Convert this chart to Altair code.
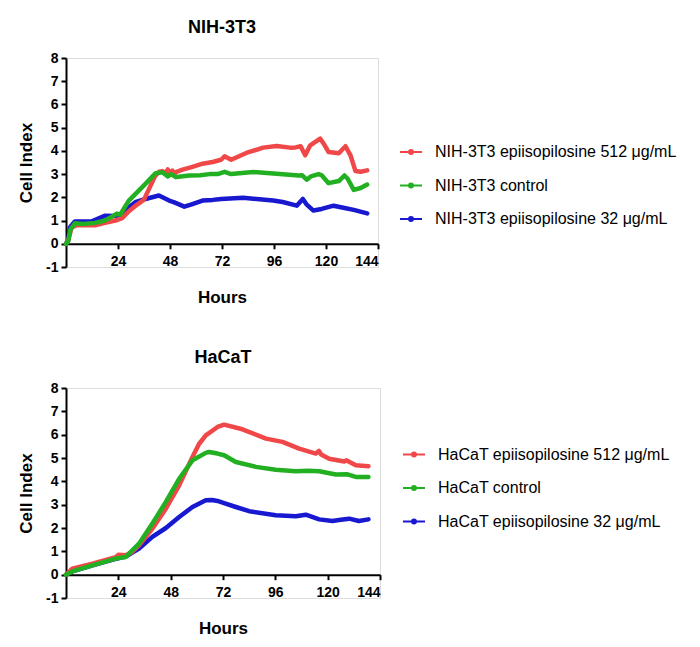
import altair as alt
import pandas as pd

# ---------------- data ----------------
NIH_SERIES = ["NIH-3T3 epiisopilosine 512 μg/mL", "NIH-3T3 control", "NIH-3T3 epiisopilosine 32 μg/mL"]
HACAT_SERIES = ["HaCaT epiisopilosine 512 μg/mL", "HaCaT control", "HaCaT epiisopilosine 32 μg/mL"]
COLORS = ["#F04848", "#22B022", "#1818D0"]

NIH_512_T = [0, 1, 2.6, 4.9, 8, 13.4, 18, 22.8, 25.9, 29, 31, 33, 36, 38, 41, 43, 44.5, 46, 47, 48, 49.1, 50, 51, 53.8, 58, 63, 67.7, 71.6, 73.2, 76.2, 83.2, 91, 97.2, 103.4, 106, 108.3, 110.4, 112.7, 117.3, 119, 121.2, 125.9, 129, 131.3, 133.6, 136, 139]
NIH_512_V = [0, 0.15, 0.7, 0.8, 0.8, 0.8, 0.9, 1.0, 1.1, 1.4, 1.55, 1.7, 1.9, 2.3, 2.9, 3.1, 3.13, 3.05, 3.2, 3.0, 3.15, 3.0, 3.1, 3.19, 3.3, 3.45, 3.52, 3.62, 3.77, 3.62, 3.91, 4.14, 4.21, 4.14, 4.15, 4.2, 3.81, 4.24, 4.53, 4.3, 3.95, 3.9, 4.2, 3.81, 3.13, 3.1, 3.16]

NIH_CTRL_T = [0, 1, 2, 4.1, 8, 13.4, 18, 21.2, 23.5, 25, 29, 35.2, 41.4, 44.5, 47, 48.5, 50.7, 53, 56.9, 62, 66.2, 70, 73.2, 76.2, 86.3, 98.7, 107.3, 109, 111.1, 113, 116.6, 118, 121.2, 125.9, 128.5, 130, 132.8, 136, 139]
NIH_CTRL_V = [0, 0.1, 0.6, 0.88, 0.85, 0.9, 1.0, 1.17, 1.3, 1.25, 1.86, 2.44, 3.04, 3.08, 2.9, 3.0, 2.87, 2.9, 2.94, 2.95, 3.0, 3.0, 3.1, 3.0, 3.09, 3.0, 2.94, 2.95, 2.76, 2.9, 3.0, 2.95, 2.61, 2.7, 2.94, 2.8, 2.32, 2.4, 2.55]

NIH_32_T = [0, 1, 1.8, 4.1, 8.8, 11.9, 18.1, 22.8, 25, 28, 32, 36.7, 42.9, 47.6, 50, 54.6, 58, 63, 67.7, 71.6, 81.7, 95.6, 100, 106.5, 109.3, 111, 114.2, 118, 123.5, 128, 132.8, 139]
NIH_32_V = [0, 0.15, 0.7, 0.96, 0.96, 0.97, 1.21, 1.2, 1.25, 1.5, 1.79, 1.93, 2.08, 1.86, 1.78, 1.6, 1.7, 1.86, 1.89, 1.93, 1.98, 1.86, 1.8, 1.64, 1.93, 1.7, 1.43, 1.5, 1.64, 1.55, 1.46, 1.31]

HACAT_512_T = [0, 2.9, 12.1, 22.8, 24, 27.4, 30, 33.5, 39.6, 45.8, 51.9, 58, 61, 64.1, 69.5, 72.5, 80.9, 91.7, 99.3, 106.9, 114.6, 116, 117, 120.7, 127.6, 128.5, 132.9, 138.7]
HACAT_512_V = [0, 0.26, 0.47, 0.75, 0.85, 0.83, 0.95, 1.26, 1.97, 2.83, 3.83, 5.04, 5.6, 5.97, 6.33, 6.43, 6.23, 5.83, 5.69, 5.4, 5.19, 5.3, 5.15, 4.97, 4.85, 4.9, 4.69, 4.65]

HACAT_CTRL_T = [0, 2.9, 12.1, 22.8, 27.4, 33.5, 39.6, 45.8, 51.9, 58, 64.1, 65.6, 69.5, 72.5, 77.9, 87.1, 96.2, 105.4, 111, 116.1, 123.8, 129.1, 132.9, 138.7]
HACAT_CTRL_V = [0, 0.14, 0.4, 0.69, 0.76, 1.33, 2.19, 3.12, 4.11, 4.9, 5.22, 5.26, 5.19, 5.12, 4.83, 4.62, 4.5, 4.43, 4.45, 4.43, 4.29, 4.3, 4.19, 4.19]

HACAT_32_T = [0, 2.9, 12.1, 22.8, 27.4, 33.5, 39.6, 45.8, 51.9, 58, 64.1, 67, 69.5, 72.5, 77.9, 84, 96.2, 105.4, 110, 116.1, 122.2, 126, 129.9, 134.3, 138.7]
HACAT_32_V = [0, 0.14, 0.4, 0.68, 0.78, 1.12, 1.62, 2.0, 2.47, 2.9, 3.19, 3.2, 3.16, 3.07, 2.9, 2.72, 2.55, 2.5, 2.57, 2.37, 2.3, 2.35, 2.4, 2.3, 2.37]

X_TICKS = [24, 48, 72, 96, 120, 144]
Y_TICKS = [-1, 0, 1, 2, 3, 4, 5, 6, 7, 8]

FONT = "Liberation Sans"
LEGEND_SYMBOL = "M-1,0L1,0M-0.18,0a0.18,0.18 0 1,0 0.36,0a0.18,0.18 0 1,0 -0.36,0"


def frame(names, ts, vs):
    rows = []
    for n, t, v in zip(names, ts, vs):
        for a, b in zip(t, v):
            rows.append({"series": n, "hours": a, "ci": b})
    return pd.DataFrame(rows)


def panel(title, names, ts, vs, w, h, lx, ly):
    df = frame(names, ts, vs)
    color = alt.Color(
        "series:N",
        scale=alt.Scale(domain=names, range=COLORS),
        legend=alt.Legend(
            title=None, orient="none", legendX=lx, legendY=ly,
            symbolType=LEGEND_SYMBOL, symbolSize=484, symbolStrokeWidth=2,
            labelFont=FONT, labelFontSize=16, labelColor="black",
            labelOffset=12, rowPadding=13.5, labelLimit=400, padding=0,
        ),
    )
    x = alt.X(
        "hours:Q",
        scale=alt.Scale(domain=[0, 144], nice=False, zero=False),
        axis=alt.Axis(
            values=X_TICKS, title="Hours", offset=-(h / 9.0), grid=False,
            domainColor="black", domainWidth=2, tickColor="black", tickWidth=2,
            tickSize=5, labelPadding=6, labelFont=FONT, labelFontSize=14,
            labelFontWeight="bold", labelColor="black", titleFont=FONT,
            titleFontSize=17, titleFontWeight="bold", titleColor="black",
            titlePadding=21,
        ),
    )
    y = alt.Y(
        "ci:Q",
        scale=alt.Scale(domain=[-1, 8], nice=False, zero=False),
        axis=alt.Axis(
            values=Y_TICKS, title="Cell Index", grid=False,
            labelExpr="replace(datum.label, '\u2212', '-')",
            domainColor="black", domainWidth=2, tickColor="black", tickWidth=2,
            tickSize=5, labelPadding=3, labelFont=FONT, labelFontSize=14,
            labelFontWeight="bold", labelColor="black", titleFont=FONT,
            titleFontSize=17, titleFontWeight="bold", titleColor="black",
            titlePadding=10,
        ),
    )
    base = alt.Chart(df)
    order = [names[2], names[0], names[1]]
    layers = [
        base.transform_filter(alt.datum.series == n)
        .mark_line(strokeWidth=4.5, strokeJoin="round", strokeCap="round")
        .encode(x=x, y=y, color=color)
        for n in order
    ]
    return alt.layer(*layers).properties(
        width=w, height=h,
        title=alt.TitleParams(title, font=FONT, fontSize=18, fontWeight="bold",
                              color="black", frame="group", anchor="middle",
                              offset=14),
    )


top = panel("NIH-3T3", NIH_SERIES, [NIH_512_T, NIH_CTRL_T, NIH_32_T],
            [NIH_512_V, NIH_CTRL_V, NIH_32_V], 312, 209, 333, 82)
bottom = panel("HaCaT", HACAT_SERIES, [HACAT_512_T, HACAT_CTRL_T, HACAT_32_T],
               [HACAT_512_V, HACAT_CTRL_V, HACAT_32_V], 314, 210, 336, 54.5)

chart = (
    alt.vconcat(top, bottom, spacing=41, padding={"left": 9, "top": 10, "right": 5, "bottom": 5})
    .resolve_scale(color="independent")
    .configure_view(stroke=None)
    .configure(background="white")
)

chart.save("out.html", embed_options={"renderer": "svg", "actions": False})
